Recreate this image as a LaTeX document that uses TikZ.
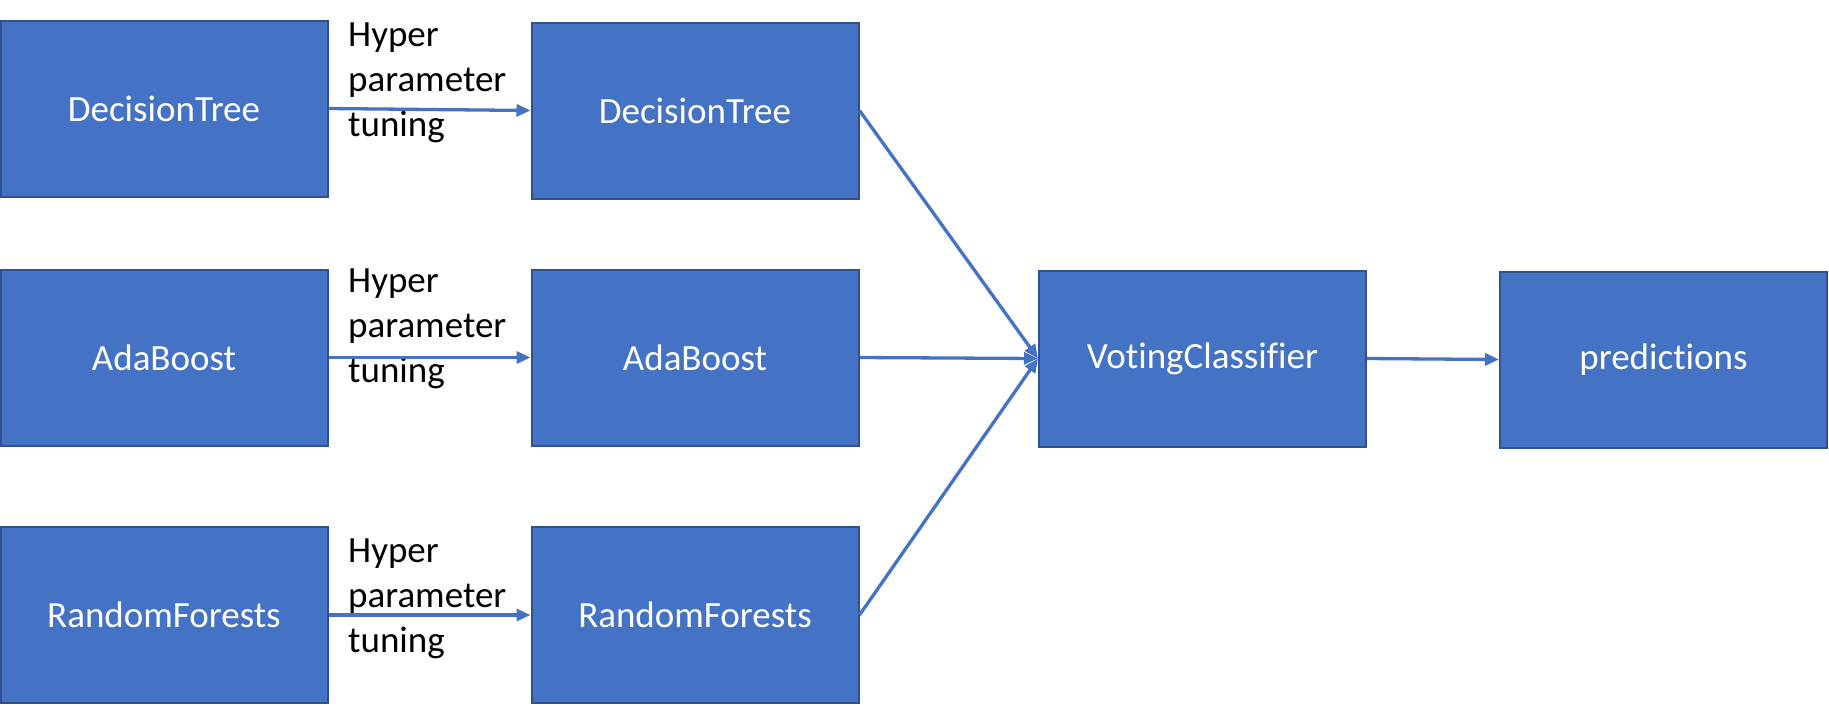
\documentclass[tikz,border=0pt]{standalone}
\usepackage{fontspec}
\setmainfont[RawFeature={-liga;-clig;-dlig;-calt}]{Carlito}
\usetikzlibrary{arrows.meta}
\definecolor{boxfill}{HTML}{4472C4}
\definecolor{boxline}{HTML}{2F528F}
\tikzset{
  box/.style={draw=boxline, fill=boxfill, line width=2pt, text=white,
    minimum width=327pt, minimum height=176pt, inner sep=0pt,
    font=\fontsize{37}{44}\selectfont},
  conn/.style={draw=boxfill, line width=3.3pt,
    -{Triangle[length=14pt,width=12pt]}},
  lbl/.style={anchor=west, align=left, inner sep=0pt, text=black,
    font=\fontsize{37}{45}\selectfont}
}
\begin{document}
\begin{tikzpicture}[x=1pt,y=-1pt]
\useasboundingbox (0,0) rectangle (1829,705);
\node[box] (l1) at (164,108.5) {DecisionTree};
\node[box] (l2) at (164,357.5) {AdaBoost};
\node[box] (l3) at (164,615) {RandomForests};
\node[box] (m1) at (695,110.5) {DecisionTree};
\node[box] (m2) at (695,357.5) {AdaBoost};
\node[box] (m3) at (695,615) {RandomForests};
\node[box] (v) at (1202.5,358.5) {VotingClassifier};
\node[box] (p) at (1663.5,359.5) {predictions};
\node[lbl] (t1) at (348,83) {Hyper\\parameter\\tuning};
\node[lbl] (t2) at (348,329) {Hyper\\parameter\\tuning};
\node[lbl] (t3) at (348,599) {Hyper\\parameter\\tuning};
\draw[conn] (l1.east) -- (m1.west);
\draw[conn] (l2.east) -- (m2.west);
\draw[conn] (l3.east) -- (m3.west);
\draw[conn] (m1.east) -- (v.west);
\draw[conn] (m2.east) -- (v.west);
\draw[conn] (m3.east) -- (v.west);
\draw[conn] (v.east) -- (p.west);
\end{tikzpicture}
\end{document}
